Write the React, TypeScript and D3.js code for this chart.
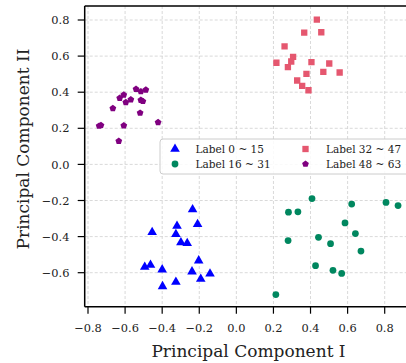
import { useEffect } from "react";
import * as d3 from "d3";

// cluster data
const blueX = [-0.236, -0.32, -0.209, -0.454, -0.326, -0.299, -0.265, -0.203, -0.463, -0.494, -0.4, -0.239, -0.142, -0.192, -0.326, -0.398];
const blueY = [-0.25, -0.341, -0.332, -0.376, -0.387, -0.433, -0.437, -0.533, -0.557, -0.568, -0.583, -0.594, -0.606, -0.635, -0.652, -0.676];
const greenX = [0.408, 0.622, 0.807, 0.872, 0.281, 0.332, 0.586, 0.642, 0.443, 0.279, 0.508, 0.672, 0.427, 0.521, 0.568, 0.213];
const greenY = [-0.189, -0.22, -0.211, -0.228, -0.265, -0.263, -0.324, -0.383, -0.404, -0.422, -0.439, -0.48, -0.561, -0.587, -0.604, -0.721];
const redX = [0.434, 0.366, 0.458, 0.26, 0.306, 0.216, 0.296, 0.405, 0.501, 0.278, 0.469, 0.557, 0.378, 0.328, 0.355, 0.389];
const redY = [0.802, 0.73, 0.732, 0.654, 0.596, 0.563, 0.57, 0.567, 0.559, 0.539, 0.513, 0.509, 0.502, 0.465, 0.435, 0.411];
const purpleX = [-0.74, -0.73, -0.666, -0.634, -0.629, -0.607, -0.607, -0.596, -0.569, -0.541, -0.515, -0.488, -0.515, -0.504, -0.519, -0.422];
const purpleY = [0.213, 0.217, 0.311, 0.129, 0.367, 0.385, 0.215, 0.344, 0.359, 0.417, 0.404, 0.413, 0.356, 0.35, 0.285, 0.233];

const seriesLabels = ["Label 0 ~ 15", "Label 16 ~ 31", "Label 32 ~ 47", "Label 48 ~ 63"];
const xTicks = [-0.8, -0.6, -0.4, -0.2, 0.0, 0.2, 0.4, 0.6, 0.8];
const yTicks = [-0.6, -0.4, -0.2, 0.0, 0.2, 0.4, 0.6, 0.8];

const FONT = "'DejaVu Serif', serif";

const pentagon: d3.SymbolType = {
    draw ( ctx, size )
    {
        const r = Math.sqrt( size / 2.378 );
        for ( let i = 0; i < 5; i++ )
        {
            const a = -Math.PI / 2 + ( i * 2 * Math.PI ) / 5;
            const px = r * Math.cos( a ), py = r * Math.sin( a );
            if ( i === 0 ) ctx.moveTo( px, py ); else ctx.lineTo( px, py );
        }
        ctx.closePath();
    },
};

const series = [
    { xs: blueX, ys: blueY, color: "#0000ff", symbol: d3.symbolTriangle, size: 40, label: seriesLabels[ 0 ] },
    { xs: greenX, ys: greenY, color: "#00875f", symbol: d3.symbolCircle, size: 36, label: seriesLabels[ 1 ] },
    { xs: redX, ys: redY, color: "#e5576f", symbol: d3.symbolSquare, size: 40, label: seriesLabels[ 2 ] },
    { xs: purpleX, ys: purpleY, color: "#800080", symbol: pentagon, size: 30, label: seriesLabels[ 3 ] },
];

export default function App ()
{
    useEffect( () =>
    {
        document.body.style.margin = "0";
    }, [] );

    const W = 406, H = 363;
    const left = 84.7, right = 410, top = 6, bottom = 306.7;
    const x = d3.scaleLinear().domain( [ -0.8, 0.8 ] ).range( [ 88, 384.7 ] );
    const y = d3.scaleLinear().domain( [ -0.6, 0.8 ] ).range( [ 272.7, 20 ] );
    const fmt = d3.format( ".1f" );
    const tickLen = 7;

    return (
        <svg width={ W } height={ H } style={ { position: "absolute", left: 0, top: 0, background: "#fff" } }>
            <defs>
                <clipPath id="plot">
                    <rect x={ left } y={ top } width={ right - left } height={ bottom - top } />
                </clipPath>
            </defs>
            {/* grid */ }
            <g stroke="#cfcfcf" strokeWidth={ 0.8 } strokeDasharray="3,2">
                { xTicks.map( ( t ) => <line key={ "gx" + t } x1={ x( t ) } x2={ x( t ) } y1={ top } y2={ bottom } /> ) }
                { yTicks.map( ( t ) => <line key={ "gy" + t } x1={ left } x2={ right } y1={ y( t ) } y2={ y( t ) } /> ) }
            </g>
            {/* points */ }
            <g clipPath="url(#plot)">
                { series.map( ( s, si ) =>
                {
                    const path = d3.symbol().type( s.symbol ).size( s.size )()!;
                    return s.xs.map( ( xv, i ) => (
                        <path key={ si + "-" + i } d={ path } fill={ s.color }
                            transform={ `translate(${ x( xv ) },${ y( s.ys[ i ] ) })` } />
                    ) );
                } ) }
            </g>
            {/* legend */ }
            <g>
                <rect x={ 160 } y={ 139 } width={ 260 } height={ 35 } rx={ 3 } fill="#fff" fillOpacity={ 0.85 } stroke="#cccccc" strokeWidth={ 1 } />
                { series.map( ( s, i ) =>
                {
                    const col = i < 2 ? 0 : 1;
                    const row = i % 2;
                    const mx = col === 0 ? 175 : 305.5;
                    const my = 149 + row * 15;
                    const path = d3.symbol().type( s.symbol ).size( s.size )()!;
                    return (
                        <g key={ "lg" + i }>
                            <path d={ path } fill={ s.color } transform={ `translate(${ mx },${ my })` } />
                            <text x={ mx + 20.5 } y={ my + 3.8 } fontFamily={ FONT } fontSize={ 10.5 } fill="#222">{ s.label }</text>
                        </g>
                    );
                } ) }
            </g>
            {/* spines */ }
            <g stroke="#000" strokeWidth={ 1.5 } fill="none">
                <line x1={ left } x2={ left } y1={ top } y2={ bottom } />
                <line x1={ left } x2={ right } y1={ bottom } y2={ bottom } />
                <line x1={ left } x2={ right } y1={ top } y2={ top } />
            </g>
            {/* ticks */ }
            <g fontFamily={ FONT } fontSize={ 11.4 } fill="#222">
                { xTicks.map( ( t ) => (
                    <g key={ "tx" + t }>
                        <line x1={ x( t ) } x2={ x( t ) } y1={ bottom } y2={ bottom + tickLen } stroke="#000" strokeWidth={ 1.2 } />
                        <text x={ x( t ) } y={ 332.3 } textAnchor="middle">{ fmt( t ) }</text>
                    </g>
                ) ) }
                { yTicks.map( ( t ) => (
                    <g key={ "ty" + t }>
                        <line x1={ left - tickLen } x2={ left } y1={ y( t ) } y2={ y( t ) } stroke="#000" strokeWidth={ 1.2 } />
                        <text x={ 69.4 } y={ y( t ) + 4.1 } textAnchor="end">{ fmt( t ) }</text>
                    </g>
                ) ) }
            </g>
            {/* axis labels */ }
            <text x={ 248.5 } y={ 357.3 } textAnchor="middle" fontFamily={ FONT } fontSize={ 17 } fill="#222">Principal Component I</text>
            <text transform={ `translate(28.5,149) rotate(-90)` } textAnchor="middle" fontFamily={ FONT } fontSize={ 17 } fill="#222">Principal Component II</text>
        </svg>
    );
}
